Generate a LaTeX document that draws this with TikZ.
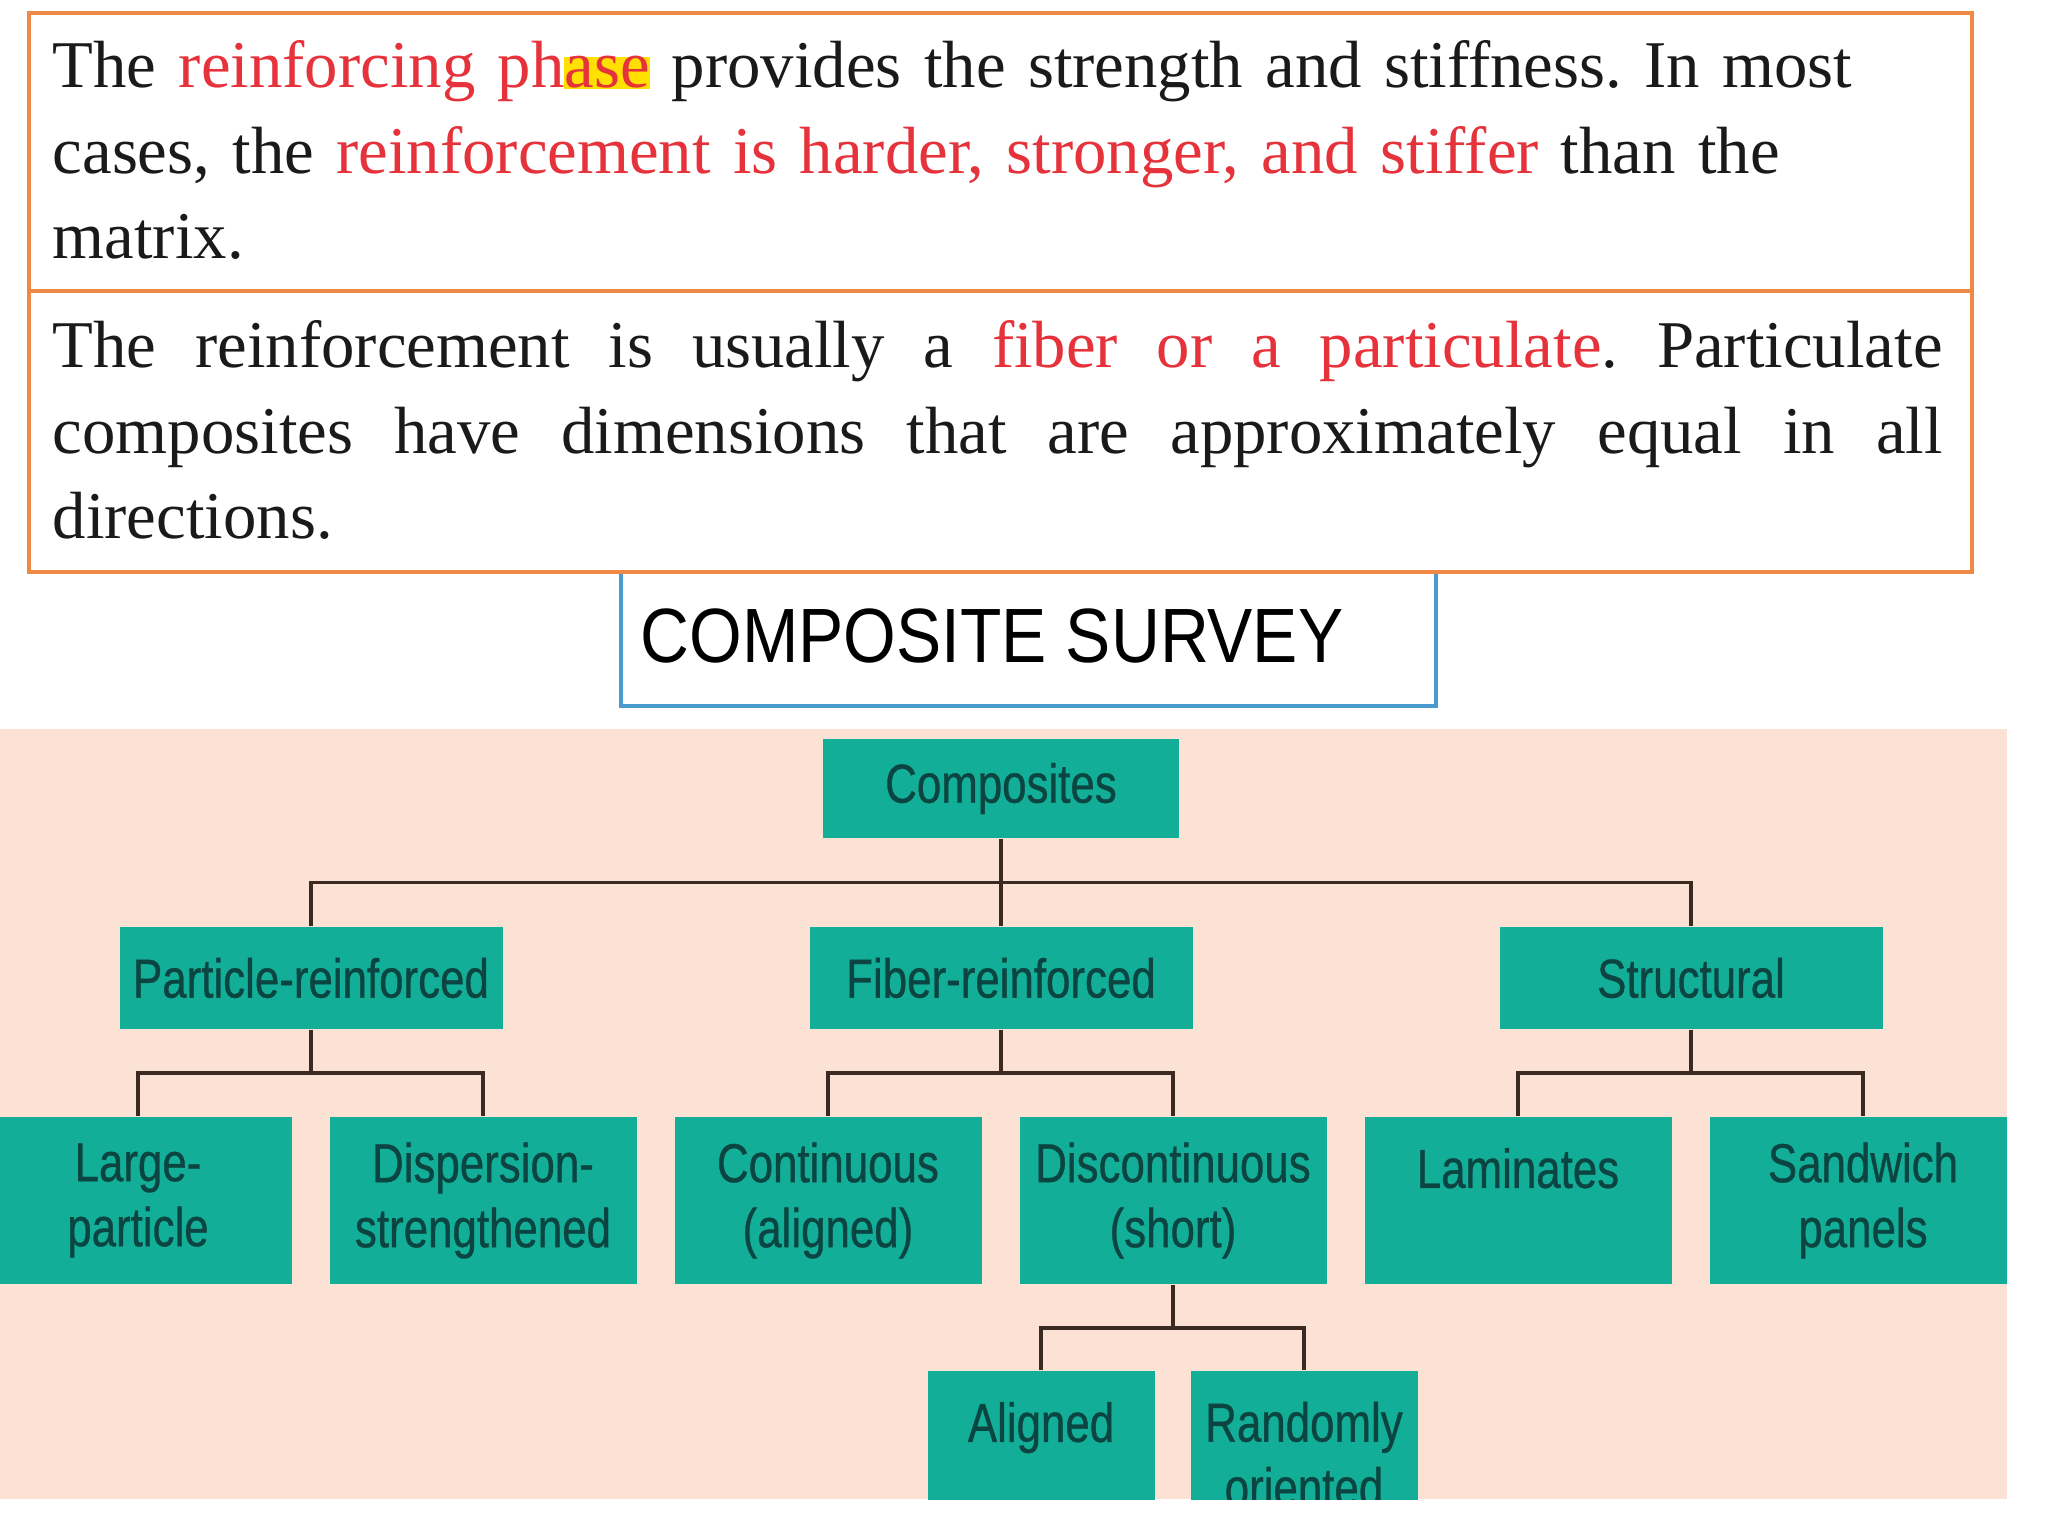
\documentclass[tikz,border=0pt]{standalone}
\usepackage{fontspec}
\setmainfont{Liberation Serif}
\newfontfamily\titlefont[FakeStretch=0.88]{Liberation Sans}
\newfontfamily\treefont[FakeStretch=0.8,FakeBold=0.6]{Liberation Sans}
\usetikzlibrary{calc,positioning}
\definecolor{boxorange}{HTML}{EE8A45}
\definecolor{titleblue}{HTML}{4A9BD0}
\definecolor{accentred}{HTML}{E5323B}
\definecolor{marker}{HTML}{FFE000}
\definecolor{inkblack}{HTML}{1A1A1A}
\definecolor{blush}{HTML}{FCE1D5}
\definecolor{boxteal}{HTML}{12AE97}
\definecolor{inkteal}{HTML}{0B4440}
\definecolor{wire}{HTML}{3B2A22}
\newcommand{\hilite}[1]{{\setlength{\fboxsep}{0pt}\colorbox{marker}{#1}}}
\frenchspacing

\begin{document}
\begin{tikzpicture}[
  para/.style={anchor=base west, inner sep=0pt, text width=18.9cm, text=inkblack,
    font=\fontsize{19}{24.2}\selectfont},
  catbox/.style={fill=boxteal, text=inkteal, inner sep=0pt, align=center,
    font=\treefont\fontsize{15.6}{18.5}\selectfont},
  midbox/.style={catbox, minimum width=3.83cm, minimum height=1.02cm},
  leafbox/.style={catbox, minimum width=3.07cm, minimum height=1.67cm},
  tipbox/.style={catbox, minimum width=2.27cm, minimum height=1.67cm},
  link/.style={draw=wire, line width=0.04cm}
]
  \useasboundingbox (0,0) rectangle (20.48,-15.36);
  \fill[white] (0,0) rectangle (20.48,-15.36);

  % text panels
  \draw[titleblue, line width=0.035cm] (6.21,-5.72) rectangle (14.36,-7.06);
  \draw[boxorange, line width=0.045cm] (0.29,-0.13) rectangle (19.72,-2.91);
  \draw[boxorange, line width=0.045cm] (0.29,-2.91) rectangle (19.72,-5.72);

  \node[para, align=left] (phase) at (0.52,-0.88)
    {The \textcolor{accentred}{reinforcing ph\hilite{ase}} provides the strength and stiffness. In most\\
     cases, the \textcolor{accentred}{reinforcement is harder, stronger, and stiffer} than the\\
     matrix.};
  \node[para, align=justify] (shape) at (0.52,-3.68)
    {The reinforcement is usually a \textcolor{accentred}{fiber or a particulate}. Particulate\linebreak
     composites have dimensions that are approximately equal in all\linebreak
     directions.};

  \node[anchor=base west, inner sep=0pt, text=black, font=\titlefont\fontsize{21.9}{24}\selectfont]
    (title) at (6.40,-6.63) {COMPOSITE SURVEY};

  % classification tree
  \begin{scope}
    \clip (0,-7.29) rectangle (20.07,-14.99);
    \fill[blush] (0,-7.29) rectangle (20.07,-14.99);

    \node[catbox, minimum width=3.56cm, minimum height=0.99cm] (comp) at (10.01,-7.885) {Composites};

    \node[midbox] (part)   at (3.11,-9.78)  {Particle-reinforced};
    \node[midbox] (fib)    at (10.01,-9.78) {Fiber-reinforced};
    \node[midbox] (struct) at (16.91,-9.78) {Structural};

    \node[leafbox] (large) at (1.38,-12.005)  {Large-\\particle};
    \node[leafbox] (disp)  at (4.83,-12.005)  {Dispersion-\\strengthened};
    \node[leafbox] (cont)  at (8.28,-12.005)  {Continuous\\(aligned)};
    \node[leafbox] (disc)  at (11.73,-12.005) {Discontinuous\\(short)};
    \node[leafbox] (lam)   at (15.18,-12.005) {Laminates\\\mbox{}};
    \node[leafbox] (sand)  at (18.63,-12.005) {Sandwich\\panels};

    \node[tipbox] (align) at (10.41,-14.545) {Aligned\\\mbox{}};
    \node[tipbox] (rand)  at (13.04,-14.545) {Randomly\\oriented};

    \coordinate (j1) at ($(comp.south)!.5!(fib.north)$);
    \coordinate (j2) at ($(part.south)!.5!(large.north)$);
    \coordinate (j3) at ($(fib.south)!.5!(cont.north)$);
    \coordinate (j4) at ($(struct.south)!.5!(lam.north)$);
    \coordinate (j5) at ($(disc.south)!.5!(align.north)$);

    \draw[link] (comp.south) -- (fib.north);
    \draw[link] (part.north) |- (j1) -| (struct.north);
    \draw[link] (part.south) -- (part.south |- j2);
    \draw[link] (large.north) |- (j2) -| (disp.north);
    \draw[link] (fib.south) -- (fib.south |- j3);
    \draw[link] (cont.north) |- (j3) -| (disc.north);
    \draw[link] (struct.south) -- (struct.south |- j4);
    \draw[link] (lam.north) |- (j4) -| (sand.north);
    \draw[link] (disc.south) -- (disc.south |- j5);
    \draw[link] (align.north) |- (j5) -| (rand.north);
  \end{scope}
\end{tikzpicture}
\end{document}
